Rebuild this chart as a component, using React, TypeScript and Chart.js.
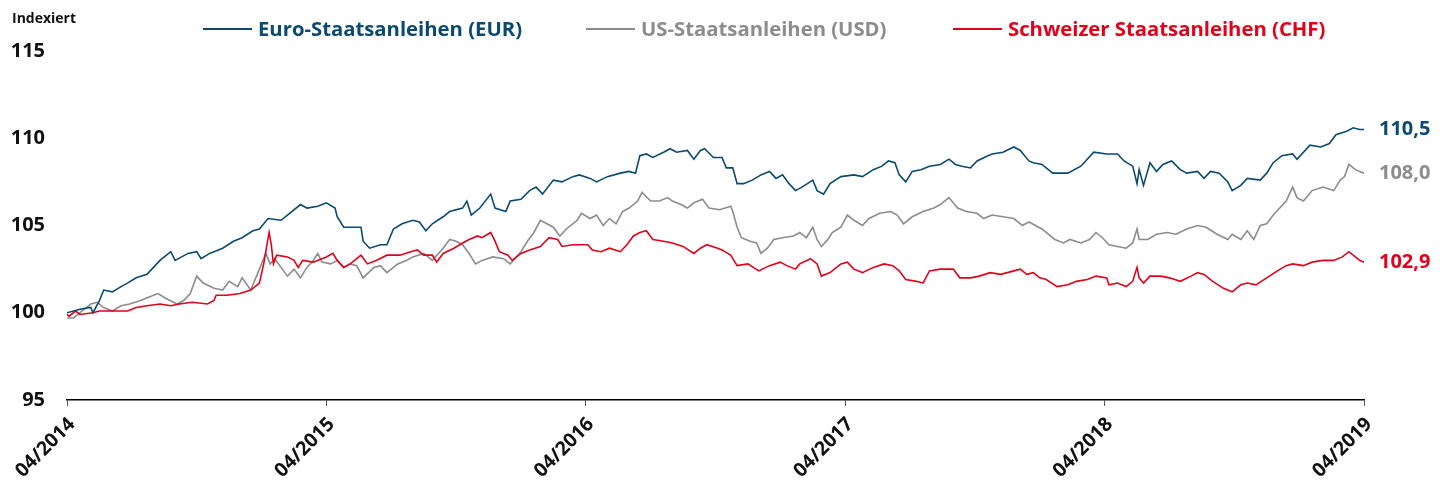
import React, { useEffect, useRef } from "react";
import { Chart, registerables } from "chart.js";

Chart.register(...registerables);

// x values are months since 04/2014
const xTickMonths = [0, 12, 24, 36, 48, 60];
const xTickLabels = ["04/2014", "04/2015", "04/2016", "04/2017", "04/2018", "04/2019"];
const yTicks = [95, 100, 105, 110, 115];

const seriesNames = ["Euro-Staatsanleihen (EUR)", "US-Staatsanleihen (USD)", "Schweizer Staatsanleihen (CHF)"];
const seriesColors = ["#0b4a70", "#8c8c8c", "#e2001a"];
const endLabels = ["110,5", "108,0", "102,9"];

const eurMonths = [0,0.6,1.1,1.2,1.5,1.7,2.1,2.5,2.8,3.2,3.7,4.0,4.3,4.8,5.0,5.6,6.0,6.2,6.6,7.2,7.7,8.1,8.6,8.9,9.3,9.9,10.3,10.8,11.1,11.6,12.0,12.4,12.5,12.8,13.2,13.6,13.7,14.0,14.5,14.8,15.1,15.5,16.0,16.3,16.6,16.9,17.4,17.7,18.3,18.5,18.7,19.1,19.6,19.8,20.3,20.5,21.0,21.4,21.7,22.0,22.5,22.9,23.4,23.7,24.2,24.5,25.0,25.6,26.0,26.3,26.5,26.8,27.1,27.6,27.9,28.2,28.7,29.0,29.3,29.5,29.9,30.3,30.5,30.8,31.0,31.3,31.7,32.1,32.5,32.8,33.1,33.4,33.7,34.0,34.5,34.7,35.0,35.3,35.8,36.4,36.8,37.3,37.7,38.0,38.3,38.5,38.8,39.1,39.5,39.9,40.4,40.8,41.1,41.4,41.8,42.1,42.6,42.8,43.3,43.8,44.1,44.5,44.7,45.1,45.6,46.3,46.9,47.5,48.1,48.6,48.9,49.3,49.5,49.6,49.8,50.1,50.4,50.7,51.1,51.5,51.8,52.3,52.6,52.9,53.3,53.7,53.9,54.3,54.6,55.2,55.5,55.8,56.2,56.7,56.9,57.5,58.0,58.4,58.7,59.2,59.5,59.8,60.0];
const eurValues = [100.0,100.2,100.3,100.0,100.7,101.3,101.2,101.5,101.7,102.0,102.2,102.6,103.0,103.5,103.0,103.4,103.5,103.1,103.4,103.7,104.1,104.3,104.7,104.8,105.4,105.3,105.7,106.2,106.0,106.1,106.3,106.0,105.5,104.9,104.9,104.9,104.1,103.7,103.9,103.9,104.8,105.1,105.3,105.2,104.7,105.1,105.5,105.8,106.0,106.4,105.6,106.0,106.8,106.0,105.8,106.4,106.5,107.0,107.2,106.8,107.6,107.5,107.8,107.9,107.7,107.5,107.8,108.0,108.1,108.0,109.0,109.1,108.9,109.2,109.4,109.2,109.3,108.8,109.3,109.4,108.9,108.9,108.3,108.3,107.4,107.4,107.6,107.9,108.1,107.7,107.9,107.4,107.0,107.2,107.6,107.0,106.8,107.4,107.8,107.9,107.8,108.2,108.4,108.7,108.6,107.9,107.5,108.1,108.2,108.4,108.5,108.8,108.5,108.4,108.3,108.7,109.0,109.1,109.2,109.5,109.3,108.7,108.6,108.5,108.0,108.0,108.4,109.2,109.1,109.1,108.7,108.4,107.4,108.2,107.3,108.6,108.1,108.5,108.7,108.2,108.0,108.1,107.7,108.1,108.0,107.5,107.0,107.3,107.7,107.6,108.0,108.6,109.0,109.1,108.8,109.6,109.5,109.7,110.2,110.4,110.6,110.5,110.5];

const usdMonths = [0,0.3,0.6,1.1,1.4,1.7,2.1,2.5,2.9,3.4,3.8,4.2,4.6,5.1,5.4,5.7,6.0,6.3,6.8,7.2,7.5,7.9,8.1,8.5,8.9,9.2,9.4,9.6,9.9,10.2,10.5,10.8,11.1,11.4,11.6,11.8,12.2,12.5,12.8,13.1,13.4,13.7,14.2,14.5,14.8,15.3,15.7,16.0,16.5,16.9,17.4,17.7,18.0,18.3,18.6,18.9,19.2,19.7,20.2,20.5,21.0,21.3,21.6,21.9,22.2,22.5,22.8,23.1,23.6,23.8,24.2,24.5,24.8,25.1,25.4,25.7,26.0,26.4,26.6,27.0,27.4,27.8,28.0,28.4,28.7,29.0,29.4,29.7,30.2,30.7,30.8,31.0,31.2,31.6,31.9,32.1,32.4,32.7,33.1,33.6,33.9,34.2,34.5,34.7,34.9,35.2,35.4,35.8,36.1,36.4,36.8,37.1,37.6,38.1,38.4,38.7,39.1,39.6,40.1,40.4,40.8,41.2,41.6,42.1,42.4,42.8,43.3,43.8,44.2,44.5,45.1,45.7,46.1,46.4,46.9,47.3,47.6,47.9,48.2,48.6,49.0,49.3,49.5,49.6,50.0,50.4,50.9,51.3,51.8,52.3,52.7,53.2,53.7,53.9,54.3,54.6,54.9,55.2,55.5,55.8,56.1,56.4,56.7,56.9,57.2,57.6,58.1,58.6,58.9,59.1,59.3,59.6,59.8,60.0];
const usdValues = [99.7,99.7,100.0,100.5,100.6,100.3,100.1,100.4,100.5,100.7,100.9,101.1,100.8,100.5,100.7,101.1,102.1,101.7,101.4,101.3,101.8,101.5,102.0,101.3,102.5,103.4,102.8,103.1,102.6,102.1,102.5,102.0,102.6,103.0,103.4,102.9,102.8,103.0,102.6,102.8,102.7,102.0,102.6,102.7,102.3,102.8,103.0,103.2,103.4,103.0,103.7,104.2,104.1,103.9,103.4,102.8,103.0,103.2,103.1,102.8,103.5,104.1,104.6,105.3,105.1,104.9,104.4,104.8,105.3,105.7,105.4,105.6,105.0,105.4,105.1,105.8,106.0,106.4,106.9,106.4,106.4,106.6,106.4,106.2,106.0,106.3,106.5,106.0,105.9,106.1,105.8,104.9,104.3,104.1,104.0,103.4,103.7,104.2,104.3,104.4,104.6,104.3,104.9,104.2,103.8,104.2,104.6,104.9,105.6,105.3,105.0,105.4,105.7,105.8,105.6,105.1,105.5,105.8,106.0,106.2,106.6,106.0,105.8,105.7,105.4,105.6,105.5,105.4,105.0,105.2,104.8,104.2,104.0,104.2,104.0,104.2,104.6,104.3,103.9,103.8,103.7,104.0,104.8,104.2,104.2,104.5,104.6,104.5,104.8,105.0,104.9,104.5,104.2,104.5,104.2,104.7,104.2,105.0,105.1,105.6,106.0,106.4,107.2,106.6,106.4,107.0,107.2,107.0,107.6,107.8,108.5,108.2,108.1,108.0];

const chfMonths = [0,0.1,0.4,0.6,1.2,1.5,2.1,2.8,3.2,3.7,4.3,4.8,5.2,5.8,6.5,6.8,6.9,7.4,8.0,8.5,8.8,8.9,9.1,9.25,9.35,9.45,9.55,9.7,10.2,10.5,10.7,10.9,11.4,12.0,12.3,12.5,12.8,13.1,13.6,13.9,14.3,14.8,15.4,15.9,16.2,16.5,16.9,17.1,17.4,17.9,18.3,18.6,19.0,19.2,19.6,19.8,20.0,20.4,20.6,21.0,21.4,21.9,22.3,22.7,22.9,23.4,24.1,24.3,24.7,25.1,25.6,25.9,26.2,26.5,26.8,27.1,27.6,28.0,28.5,29.0,29.3,29.6,30.1,30.3,30.7,31.0,31.5,32.0,32.5,33.0,33.3,33.7,33.9,34.4,34.7,34.9,35.3,35.8,36.1,36.4,36.8,37.3,37.8,38.2,38.5,38.8,39.3,39.6,39.9,40.4,41.0,41.3,41.8,42.2,42.7,43.2,43.8,44.1,44.4,44.7,45.0,45.3,45.8,46.3,46.7,47.2,47.6,48.1,48.2,48.6,49.0,49.3,49.5,49.6,49.8,50.1,50.6,51.0,51.5,52.0,52.3,52.6,53.0,53.5,53.9,54.3,54.6,55.0,55.5,56.0,56.4,56.7,57.2,57.6,58.1,58.6,59.0,59.3,59.6,59.8,60.0];
const chfValues = [99.9,99.8,100.1,99.9,100.0,100.1,100.1,100.1,100.3,100.4,100.5,100.4,100.5,100.6,100.5,100.7,101.0,101.0,101.1,101.3,101.6,101.7,102.8,103.9,104.6,103.9,102.8,103.3,103.2,103.0,102.6,103.0,102.9,103.2,103.4,103.0,102.6,102.8,103.3,102.8,103.0,103.3,103.3,103.5,103.6,103.3,103.3,102.9,103.4,103.7,104.0,104.2,104.4,104.3,104.6,104.1,103.5,103.3,103.0,103.4,103.6,103.8,104.3,104.2,103.8,103.9,103.9,103.6,103.5,103.7,103.5,103.9,104.4,104.6,104.7,104.2,104.1,104.0,103.8,103.4,103.7,103.9,103.7,103.6,103.3,102.7,102.8,102.4,102.7,102.9,102.7,102.5,102.8,103.1,102.8,102.1,102.3,102.8,102.9,102.5,102.3,102.6,102.8,102.7,102.4,101.9,101.8,101.7,102.4,102.5,102.5,102.0,102.0,102.1,102.3,102.2,102.4,102.5,102.2,102.3,102.0,101.9,101.5,101.6,101.8,101.9,102.1,102.0,101.6,101.7,101.5,101.8,102.6,102.0,101.7,102.1,102.1,102.0,101.8,102.1,102.3,102.2,101.8,101.4,101.2,101.6,101.7,101.6,102.0,102.4,102.7,102.8,102.7,102.9,103.0,103.0,103.2,103.5,103.2,103.0,102.9];

const FONT = "'Open Sans', sans-serif";

function zip(xs: number[], ys: number[]) {
  const n = Math.min(xs.length, ys.length);
  const out: { x: number; y: number }[] = [];
  for (let i = 0; i < n; i++) out.push({ x: xs[i], y: ys[i] });
  return out;
}

// legend item start positions (line start, px)
const legendStarts = [203, 586, 953];

const overlayPlugin = {
  id: "overlay",
  afterDraw(chart: any) {
    const ctx = chart.ctx;
    const area = chart.chartArea;
    ctx.save();
    ctx.fillStyle = "#111";
    ctx.font = `bold 14px ${FONT}`;
    ctx.textAlign = "left";
    ctx.textBaseline = "middle";
    ctx.fillText("Indexiert", 12, 19);

    const ly = 29;
    ctx.font = `bold 20.3px ${FONT}`;
    seriesNames.forEach((name, i) => {
      const x = legendStarts[i];
      ctx.strokeStyle = seriesColors[i];
      ctx.lineWidth = 2;
      ctx.beginPath();
      ctx.moveTo(x, ly);
      ctx.lineTo(x + 49, ly);
      ctx.stroke();
      ctx.fillStyle = seriesColors[i];
      ctx.fillText(name, x + 55, ly + 1);
    });

    const yScale = chart.scales.y;
    ctx.font = `bold 20px ${FONT}`;
    chart.data.datasets.forEach((ds: any, i: number) => {
      const last = ds.data[ds.data.length - 1];
      const py = yScale.getPixelForValue(last.y);
      ctx.fillStyle = seriesColors[i];
      ctx.fillText(endLabels[i], area.right + 15, py);
    });
    ctx.restore();
  },
};

export default function App() {
  const ref = useRef<HTMLCanvasElement | null>(null);
  useEffect(() => {
    if (!ref.current) return;
    const mk = (i: number, xs: number[], ys: number[], order: number) => ({
      label: seriesNames[i],
      data: zip(xs, ys),
      borderColor: seriesColors[i],
      backgroundColor: seriesColors[i],
      borderWidth: 1.6,
      pointRadius: 0,
      tension: 0,
      fill: false,
      order,
    });
    const chart = new Chart(ref.current, {
      type: "line",
      data: {
        datasets: [
          mk(0, eurMonths, eurValues, 0),
          mk(1, usdMonths, usdValues, 2),
          mk(2, chfMonths, chfValues, 1),
        ],
      },
      options: {
        animation: false,
        responsive: false,
        parsing: false as any,
        normalized: true,
        layout: { padding: { top: 51, right: 81, left: 0, bottom: 0 } },
        plugins: {
          legend: { display: false },
          tooltip: { enabled: false },
          title: { display: false },
        },
        scales: {
          x: {
            type: "linear",
            min: 0,
            max: 60,
            afterBuildTicks: (scale: any) => {
              scale.ticks = xTickMonths.map((v) => ({ value: v }));
            },
            afterFit: (scale: any) => {
              scale.height = 87;
            },
            border: { display: true, color: "#000", width: 1.5 },
            grid: { display: true, drawOnChartArea: false, drawTicks: true, tickLength: 6, color: "#555", lineWidth: 1 },
            ticks: {
              autoSkip: false,
              minRotation: 45,
              maxRotation: 45,
              padding: 7,
              labelOffset: 5,
              color: "#111",
              font: { family: FONT, size: 19.5, weight: "bold" },
              callback: (v: any) => {
                const idx = xTickMonths.indexOf(Number(v));
                return idx >= 0 ? xTickLabels[idx] : "";
              },
            },
          },
          y: {
            min: 95,
            max: 115,
            afterBuildTicks: (scale: any) => {
              scale.ticks = yTicks.map((v) => ({ value: v }));
            },
            afterFit: (scale: any) => {
              scale.width = 67;
            },
            border: { display: false },
            grid: { display: false, drawTicks: false },
            ticks: {
              padding: 22,
              color: "#111",
              font: { family: FONT, size: 20, weight: "bold" },
              callback: (v: any) => String(v),
            },
          },
        },
      },
      plugins: [overlayPlugin],
    });
    return () => chart.destroy();
  }, []);
  return (
    <div style={{ position: "absolute", left: 0, top: 0, width: 1445, height: 487 }}>
      <canvas ref={ref} width={1445} height={487} style={{ display: "block" }} />
    </div>
  );
}
